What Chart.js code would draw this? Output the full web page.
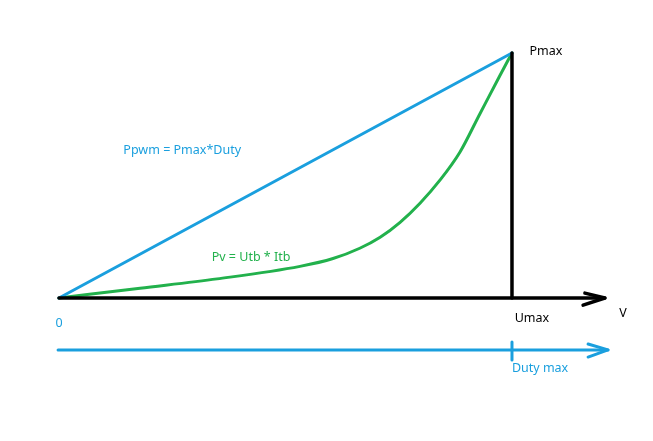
<!DOCTYPE html>
<html>
<head>
<meta charset="utf-8">
<script src="https://cdn.jsdelivr.net/npm/chart.js@4/dist/chart.umd.min.js"></script>
<style>
html,body{margin:0;padding:0;background:#fff;}
#wrap{width:653px;height:441px;}
</style>
</head>
<body>
<div id="wrap"><canvas id="c" width="653" height="441"></canvas></div>
<script>
// Normalised voltage (Umax = 1) and power (Pmax = 1)
const pvVoltage = [0, 0.179, 0.349, 0.532, 0.605, 0.664, 0.709, 0.753, 0.797, 0.841, 0.885, 0.929, 0.974, 1.0];
const pvPower   = [0, 0.040, 0.078, 0.129, 0.161, 0.203, 0.248, 0.309, 0.387, 0.481, 0.595, 0.751, 0.910, 1.0];
const pwmVoltage = [0, 1];
const pwmPower   = [0, 1];
const uMax = 1;
const pMax = 1;
const axisEnd = 1.205;
const dutyLevel = -0.212;
const dutyEnd = 1.212;
const labelTexts = ["0", "Pmax", "Umax", "V", "Duty max", "Ppwm = Pmax*Duty", "Pv = Utb * Itb"];

const BLUE = '#1a9fde';
const GREEN = '#22b14c';
const BLACK = '#000000';

const labelPos = [[0,-0.102],[1.075,1.008],[1.044,-0.082],[1.245,-0.061],[1.062,-0.286],[0.272,0.604],[0.424,0.167]];
const labelColors = [BLUE, BLACK, BLACK, BLACK, BLUE, BLUE, GREEN];

function pts(xs, ys){ return xs.map((x,i)=>({x:x,y:ys[i]})); }
function seg(data, color, w){
  return {type:'line', data:data, borderColor:color, borderWidth:w, pointRadius:0, showLine:true,
          fill:false, tension:0, borderCapStyle:'round', borderJoinStyle:'round', clip:false};
}

const textPlugin = {
  id:'texts',
  afterDatasetsDraw(chart){
    const ctx = chart.ctx, xs = chart.scales.x, ys = chart.scales.y;
    ctx.save();
    ctx.font = '12.5px "Noto Sans", "Open Sans", sans-serif';
    ctx.textAlign = 'center';
    ctx.textBaseline = 'middle';
    labelTexts.forEach((t,i)=>{
      ctx.fillStyle = labelColors[i];
      ctx.fillText(t, xs.getPixelForValue(labelPos[i][0]), ys.getPixelForValue(labelPos[i][1]));
    });
    ctx.restore();
  }
};

new Chart(document.getElementById('c'), {
  type:'scatter',
  data:{datasets:[
    seg([{x:0,y:0},{x:axisEnd,y:0}], BLACK, 3.5),
    seg([{x:1.161,y:0.020},{x:axisEnd,y:0},{x:1.157,y:-0.029}], BLACK, 3.5),
    seg([{x:uMax,y:0},{x:uMax,y:pMax}], BLACK, 3.5),
    seg(pts(pwmVoltage, pwmPower), BLUE, 3),
    Object.assign(seg(pts(pvVoltage, pvPower), GREEN, 3), {tension:0.4, cubicInterpolationMode:'monotone'}),
    seg([{x:-0.002,y:dutyLevel},{x:dutyEnd,y:dutyLevel}], BLUE, 3),
    seg([{x:1.168,y:-0.188},{x:dutyEnd,y:dutyLevel},{x:1.168,y:-0.241}], BLUE, 3),
    seg([{x:uMax,y:-0.180},{x:uMax,y:-0.253}], BLUE, 3)
  ]},
  options:{
    responsive:false, animation:false,
    layout:{padding:0},
    plugins:{legend:{display:false}, tooltip:{enabled:false}},
    scales:{
      x:{type:'linear', display:false, min:-0.1302, max:1.3113},
      y:{type:'linear', display:false, min:-0.5837, max:1.2163}
    }
  },
  plugins:[textPlugin]
});
</script>
</body>
</html>
